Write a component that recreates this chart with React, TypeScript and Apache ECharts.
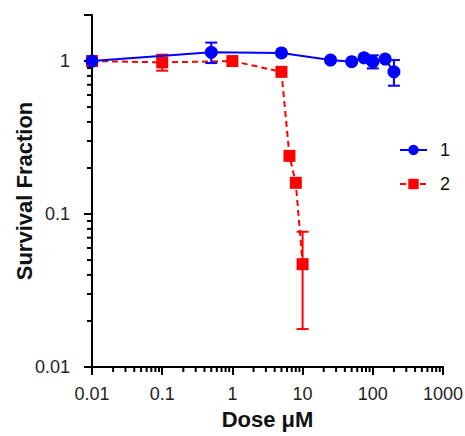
import React, { useEffect, useRef } from "react";
import * as echarts from "echarts";

const blueDose = [0.01, 0.5, 5, 25, 50, 75, 100, 150, 200];
const blueSurv = [1.0, 1.14, 1.13, 1.015, 0.99, 1.05, 0.99, 1.03, 0.85];
const blueErrDose = [0.5, 100, 200];
const blueErrLow = [0.97, 0.895, 0.69];
const blueErrHigh = [1.32, 1.09, 1.015];

const redDose = [0.01, 0.1, 1, 5, 6.5, 8, 10];
const redSurv = [1.0, 0.98, 1.0, 0.85, 0.24, 0.16, 0.047];
const redErrDose = [0.1, 10];
const redErrLow = [0.865, 0.0177];
const redErrHigh = [1.1, 0.0766];

const xTickLabels = ["0.01", "0.1", "1", "10", "100", "1000"];
const yTickLabels = ["0.01", "0.1", "1"];

const X_MIN = 0.01;
const X_MAX = 1000;
const Y_MIN = 0.01;
const Y_MAX = 2;

const BLUE = "#0000ff";
const RED = "#ff0000";
const FONT = "Liberation Sans, Arial, sans-serif";

function minorValues(minExp: number, maxExp: number, upper: number) {
  const out: number[] = [];
  for (let e = minExp; e <= maxExp; e++) {
    for (let k = 2; k <= 9; k++) {
      const v = k * Math.pow(10, e);
      if (v <= upper * 1.0001) out.push(v);
    }
  }
  return out;
}

export default function App() {
  const ref = useRef<HTMLDivElement>(null);
  useEffect(() => {
    if (!ref.current) return;
    const chart = echarts.init(ref.current, null, { renderer: "svg" });

    const errSeries = (name: string, xs: number[], lo: number[], hi: number[], color: string, z: number) => ({
      type: "custom",
      name,
      z,
      silent: true,
      clip: false,
      encode: { x: 0, y: [1, 2] },
      data: xs.map((x, i) => [x, lo[i], hi[i]]),
      renderItem: (params: any, api: any) => {
        const x = api.value(0);
        const pLo = api.coord([x, api.value(1)]);
        const pHi = api.coord([x, api.value(2)]);
        const w = 6;
        const style = { stroke: color, lineWidth: 2 };
        return {
          type: "group",
          children: [
            { type: "line", shape: { x1: pHi[0], y1: pHi[1], x2: pLo[0], y2: pLo[1] }, style },
            { type: "line", shape: { x1: pHi[0] - w, y1: pHi[1], x2: pHi[0] + w, y2: pHi[1] }, style },
            { type: "line", shape: { x1: pLo[0] - w, y1: pLo[1], x2: pLo[0] + w, y2: pLo[1] }, style },
          ],
        };
      },
    });

    const xMinor = minorValues(-2, 2, X_MAX).map((v) => [v, Y_MIN]);
    const yMinor = minorValues(-2, -1, Y_MAX).map((v) => [X_MIN, v]);

    const tickSeries = (data: number[][], dir: "x" | "y") => ({
      type: "custom",
      silent: true,
      clip: false,
      z: 1,
      data,
      encode: { x: 0, y: 1 },
      renderItem: (params: any, api: any) => {
        const p = api.coord([api.value(0), api.value(1)]);
        const len = 5;
        const shape =
          dir === "x"
            ? { x1: p[0], y1: p[1], x2: p[0], y2: p[1] + len }
            : { x1: p[0], y1: p[1], x2: p[0] - len, y2: p[1] };
        return { type: "line", shape, style: { stroke: "#000", lineWidth: 2 } };
      },
    });

    const option: any = {
      animation: false,
      textStyle: { fontFamily: FONT },
      grid: { left: 92, top: 15, right: 22, bottom: 69, containLabel: false, outerBoundsMode: "none" },
      legend: {
        data: ["1", "2"],
        orient: "vertical",
        left: 394,
        top: 136,
        itemWidth: 27,
        itemHeight: 13,
        itemGap: 16,
        textStyle: { fontSize: 18, color: "#111", fontFamily: FONT, padding: [0, 0, 0, 8] },
      },
      xAxis: {
        type: "log",
        logBase: 10,
        min: X_MIN,
        max: X_MAX,
        name: "Dose \u03bcM",
        nameLocation: "middle",
        nameGap: 41,
        nameMoveOverlap: false,
        nameTextStyle: { fontSize: 22, fontWeight: "bold", color: "#111", fontFamily: FONT },
        axisLine: { show: true, lineStyle: { color: "#000", width: 2 } },
        axisTick: { show: true, inside: false, length: 8, lineStyle: { color: "#000", width: 2 } },
        axisLabel: {
          fontSize: 18,
          color: "#222",
          margin: 18,
          fontFamily: FONT,
          formatter: (v: number) => {
            const e = Math.round(Math.log10(v));
            return xTickLabels[e + 2] ?? "";
          },
        },
        splitLine: { show: false },
      },
      yAxis: {
        type: "log",
        logBase: 10,
        min: Y_MIN,
        max: Y_MAX,
        name: "Survival Fraction",
        nameLocation: "middle",
        nameGap: 57,
        nameMoveOverlap: false,
        nameTextStyle: { fontSize: 22, fontWeight: "bold", color: "#111", fontFamily: FONT },
        axisLine: { show: true, lineStyle: { color: "#000", width: 2 } },
        axisTick: { show: true, inside: false, length: 8, lineStyle: { color: "#000", width: 2 } },
        axisLabel: {
          fontSize: 18,
          color: "#222",
          margin: 22,
          fontFamily: FONT,
          formatter: (v: number) => {
            const l = Math.log10(v);
            const e = Math.round(l);
            if (Math.abs(l - e) > 1e-6) return "";
            return yTickLabels[e + 2] ?? "";
          },
        },
        splitLine: { show: false },
      },
      series: [
        tickSeries(xMinor, "x"),
        tickSeries(yMinor, "y"),
        errSeries("2err", redErrDose, redErrLow, redErrHigh, RED, 2),
        {
          type: "line",
          name: "2",
          z: 2,
          data: redDose.map((x, i) => [x, redSurv[i]]),
          symbol: "rect",
          symbolSize: 12,
          itemStyle: { color: RED },
          lineStyle: { color: RED, width: 2, type: [6, 4] },
        },
        errSeries("1err", blueErrDose, blueErrLow, blueErrHigh, BLUE, 3),
        {
          type: "line",
          name: "1",
          z: 3,
          data: blueDose.map((x, i) => [x, blueSurv[i]]),
          symbol: "circle",
          symbolSize: 13,
          itemStyle: { color: BLUE },
          lineStyle: { color: BLUE, width: 2 },
        },
      ],
    };
    chart.setOption(option);
    return () => chart.dispose();
  }, []);
  return <div ref={ref} style={{ width: 465, height: 436, position: "absolute", left: 0, top: 0 }} />;
}
